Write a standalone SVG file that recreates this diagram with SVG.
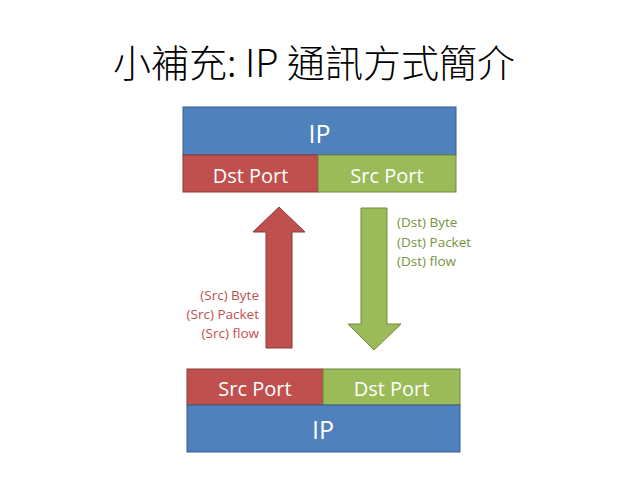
<svg xmlns="http://www.w3.org/2000/svg" width="638" height="479" viewBox="0 0 638 479">
<style>
.blue{fill:#4F81BD;stroke:#385D8A;stroke-width:1}
.red{fill:#C0504D;stroke:#8C3836;stroke-width:1}
.green{fill:#9BBB59;stroke:#71893F;stroke-width:1}
.box{font-family:"Open Sans","Liberation Sans",sans-serif;fill:#fff;text-anchor:middle}
.lbl{font-family:"Open Sans","Liberation Sans",sans-serif;font-size:13.5px}
</style>
<rect width="638" height="479" fill="#fff"/>
<text x="314" y="77" font-family="'Noto Sans CJK TC','Noto Sans CJK SC',sans-serif" font-size="38" font-weight="300" text-anchor="middle" fill="#000">小補充: IP 通訊方式簡介</text>
<g id="top-ip">
<rect class="blue" x="183" y="107" width="273" height="48"/>
<text class="box" x="319.5" y="143" font-size="25">IP</text>
</g>
<g id="top-dst">
<rect class="red" x="183" y="155" width="135" height="37"/>
<text class="box" x="250.5" y="183" font-size="20">Dst Port</text>
</g>
<g id="top-src">
<rect class="green" x="318" y="155" width="138" height="37"/>
<text class="box" x="387" y="183" font-size="20">Src Port</text>
</g>
<g id="bottom-src">
<rect class="red" x="187" y="369" width="136" height="36"/>
<text class="box" x="255" y="396" font-size="20">Src Port</text>
</g>
<g id="bottom-dst">
<rect class="green" x="323" y="369" width="137" height="36"/>
<text class="box" x="391.5" y="396" font-size="20">Dst Port</text>
</g>
<g id="bottom-ip">
<rect class="blue" x="187" y="405" width="273" height="47"/>
<text class="box" x="323" y="439" font-size="25">IP</text>
</g>
<g id="connectors">
<polygon class="red" points="266,348 292,348 292,232 305,232 279,207 253,232 266,232"/>
<polygon class="green" points="361,208 387,208 387,324 401,324 374,350 348,324 361,324"/>
</g>
<g id="labels">
<text class="lbl" fill="#76923C" x="397" y="227">(Dst) Byte</text>
<text class="lbl" fill="#76923C" x="397" y="246.5">(Dst) Packet</text>
<text class="lbl" fill="#76923C" x="397" y="266">(Dst) flow</text>
<text class="lbl" fill="#C0504D" x="259" y="300" text-anchor="end">(Src) Byte</text>
<text class="lbl" fill="#C0504D" x="259" y="319" text-anchor="end">(Src) Packet</text>
<text class="lbl" fill="#C0504D" x="259" y="338" text-anchor="end">(Src) flow</text>
</g>
</svg>
